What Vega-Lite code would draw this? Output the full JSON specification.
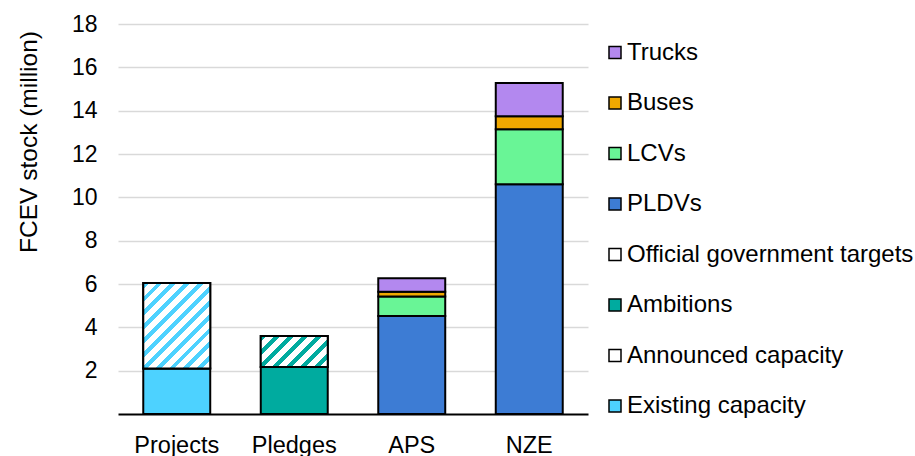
{
  "$schema": "https://vega.github.io/schema/vega-lite/v6.json",
  "width": 470,
  "height": 390,
  "autosize": "none",
  "padding": {"left": 118, "top": 24, "right": 327, "bottom": 42},
  "background": "white",
  "config": {
    "font": "Liberation Sans",
    "view": {"stroke": null}
  },
  "data": {
    "values": [
      {"scenario": "Projects", "category": "Existing capacity", "value": 2.1},
      {"scenario": "Projects", "category": "Announced capacity", "value": 3.95},
      {"scenario": "Pledges", "category": "Ambitions", "value": 2.17},
      {"scenario": "Pledges", "category": "Official government targets", "value": 1.43},
      {"scenario": "APS", "category": "PLDVs", "value": 4.52},
      {"scenario": "APS", "category": "LCVs", "value": 0.9},
      {"scenario": "APS", "category": "Buses", "value": 0.22},
      {"scenario": "APS", "category": "Trucks", "value": 0.62},
      {"scenario": "NZE", "category": "PLDVs", "value": 10.6},
      {"scenario": "NZE", "category": "LCVs", "value": 2.54},
      {"scenario": "NZE", "category": "Buses", "value": 0.6},
      {"scenario": "NZE", "category": "Trucks", "value": 1.54}
    ]
  },
  "transform": [
    {"stack": "value", "groupby": ["scenario"], "as": ["v0", "v1"]}
  ],
  "encoding": {
    "x": {
      "field": "scenario",
      "type": "nominal",
      "sort": ["Projects", "Pledges", "APS", "NZE"],
      "scale": {"paddingInner": 0.43, "paddingOuter": 0.215},
      "axis": {
        "title": null,
        "labelAngle": 0,
        "labelFontSize": 23.5,
        "labelColor": "black",
        "labelPadding": 19,
        "ticks": false,
        "domainColor": "black",
        "domainWidth": 2
      }
    },
    "y": {
      "field": "v0",
      "type": "quantitative",
      "scale": {"domain": [0, 18], "nice": false},
      "axis": {
        "title": "FCEV stock (million)",
        "titleFontSize": 24.5,
        "titleFontWeight": "normal",
        "titleColor": "black",
        "titlePadding": 30,
        "titleY": 117.5,
        "values": [2, 4, 6, 8, 10, 12, 14, 16, 18],
        "labelFontSize": 23,
        "labelColor": "black",
        "labelPadding": 21,
        "ticks": false,
        "domain": false,
        "gridColor": "#d9d9d9",
        "gridWidth": 1.5
      }
    },
    "y2": {"field": "v1"}
  },
  "layer": [
    {
      "mark": {"type": "bar", "stroke": "black", "strokeWidth": 2},
      "encoding": {
        "color": {
          "field": "category",
          "type": "nominal",
          "scale": {
            "domain": ["Trucks", "Buses", "LCVs", "PLDVs", "Official government targets", "Ambitions", "Announced capacity", "Existing capacity"],
            "range": ["#b388ef", "#f0a800", "#69f596", "#3d7cd4", "#ffffff", "#00ab9f", "#ffffff", "#4dd2ff"]
          },
          "legend": {
            "title": null,
            "orient": "none",
            "legendX": 485,
            "legendY": 16.5,
            "padding": 0,
            "rowPadding": 26.5,
            "labelFontSize": 24,
            "labelColor": "black",
            "labelOffset": 0,
            "labelLimit": 400,
            "symbolType": "square",
            "symbolSize": 144,
            "symbolStrokeColor": "black",
            "symbolStrokeWidth": 1.5
          }
        }
      }
    },
    {
      "transform": [{"filter": "datum.category === 'Announced capacity'"}],
      "mark": {
        "type": "bar",
        "stroke": "black",
        "strokeWidth": 2,
        "fill": {
          "gradient": "linear",
          "x1": 0, "y1": 0, "x2": 0.865, "y2": 1.1055,
          "stops": [
            {"offset": 0, "color": "#4dd2ff"}, {"offset": 0.0382, "color": "#4dd2ff"}, {"offset": 0.0382, "color": "#ffffff"}, {"offset": 0.0909, "color": "#ffffff"},
            {"offset": 0.0909, "color": "#4dd2ff"}, {"offset": 0.1291, "color": "#4dd2ff"}, {"offset": 0.1291, "color": "#ffffff"}, {"offset": 0.1818, "color": "#ffffff"},
            {"offset": 0.1818, "color": "#4dd2ff"}, {"offset": 0.2200, "color": "#4dd2ff"}, {"offset": 0.2200, "color": "#ffffff"}, {"offset": 0.2727, "color": "#ffffff"},
            {"offset": 0.2727, "color": "#4dd2ff"}, {"offset": 0.3109, "color": "#4dd2ff"}, {"offset": 0.3109, "color": "#ffffff"}, {"offset": 0.3636, "color": "#ffffff"},
            {"offset": 0.3636, "color": "#4dd2ff"}, {"offset": 0.4018, "color": "#4dd2ff"}, {"offset": 0.4018, "color": "#ffffff"}, {"offset": 0.4545, "color": "#ffffff"},
            {"offset": 0.4545, "color": "#4dd2ff"}, {"offset": 0.4927, "color": "#4dd2ff"}, {"offset": 0.4927, "color": "#ffffff"}, {"offset": 0.5455, "color": "#ffffff"},
            {"offset": 0.5455, "color": "#4dd2ff"}, {"offset": 0.5837, "color": "#4dd2ff"}, {"offset": 0.5837, "color": "#ffffff"}, {"offset": 0.6364, "color": "#ffffff"},
            {"offset": 0.6364, "color": "#4dd2ff"}, {"offset": 0.6746, "color": "#4dd2ff"}, {"offset": 0.6746, "color": "#ffffff"}, {"offset": 0.7273, "color": "#ffffff"},
            {"offset": 0.7273, "color": "#4dd2ff"}, {"offset": 0.7655, "color": "#4dd2ff"}, {"offset": 0.7655, "color": "#ffffff"}, {"offset": 0.8182, "color": "#ffffff"},
            {"offset": 0.8182, "color": "#4dd2ff"}, {"offset": 0.8564, "color": "#4dd2ff"}, {"offset": 0.8564, "color": "#ffffff"}, {"offset": 0.9091, "color": "#ffffff"},
            {"offset": 0.9091, "color": "#4dd2ff"}, {"offset": 0.9473, "color": "#4dd2ff"}, {"offset": 0.9473, "color": "#ffffff"}, {"offset": 1, "color": "#ffffff"}
          ]
        }
      }
    },
    {
      "transform": [{"filter": "datum.category === 'Official government targets'"}],
      "mark": {
        "type": "bar",
        "stroke": "black",
        "strokeWidth": 2,
        "fill": {
          "gradient": "linear",
          "x1": 0, "y1": 0, "x2": 1.2046, "y2": 0.5574,
          "stops": [
            {"offset": 0, "color": "#00ab9f"}, {"offset": 0.06, "color": "#00ab9f"}, {"offset": 0.06, "color": "#ffffff"}, {"offset": 0.1429, "color": "#ffffff"},
            {"offset": 0.1429, "color": "#00ab9f"}, {"offset": 0.2029, "color": "#00ab9f"}, {"offset": 0.2029, "color": "#ffffff"}, {"offset": 0.2857, "color": "#ffffff"},
            {"offset": 0.2857, "color": "#00ab9f"}, {"offset": 0.3457, "color": "#00ab9f"}, {"offset": 0.3457, "color": "#ffffff"}, {"offset": 0.4286, "color": "#ffffff"},
            {"offset": 0.4286, "color": "#00ab9f"}, {"offset": 0.4886, "color": "#00ab9f"}, {"offset": 0.4886, "color": "#ffffff"}, {"offset": 0.5714, "color": "#ffffff"},
            {"offset": 0.5714, "color": "#00ab9f"}, {"offset": 0.6314, "color": "#00ab9f"}, {"offset": 0.6314, "color": "#ffffff"}, {"offset": 0.7143, "color": "#ffffff"},
            {"offset": 0.7143, "color": "#00ab9f"}, {"offset": 0.7743, "color": "#00ab9f"}, {"offset": 0.7743, "color": "#ffffff"}, {"offset": 0.8571, "color": "#ffffff"},
            {"offset": 0.8571, "color": "#00ab9f"}, {"offset": 0.9171, "color": "#00ab9f"}, {"offset": 0.9171, "color": "#ffffff"}, {"offset": 1, "color": "#ffffff"}
          ]
        }
      }
    }
  ]
}
